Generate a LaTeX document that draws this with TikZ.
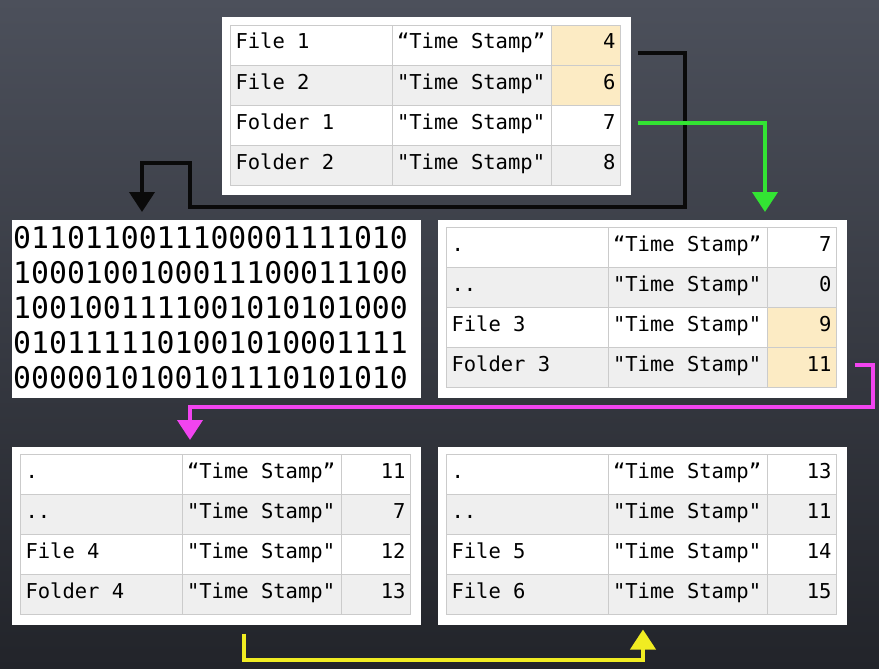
\documentclass[tikz,border=0pt]{standalone}
\usepackage{fontspec}
\usetikzlibrary{arrows.meta,positioning}
\newfontfamily\tabfont{DejaVu Sans Mono}
\definecolor{boardtop}{HTML}{4C505B}
\definecolor{boardbot}{HTML}{22242A}
\definecolor{rowgray}{HTML}{EFEFEF}
\definecolor{hlyellow}{HTML}{FCEBC4}
\definecolor{gridline}{HTML}{CBCBCB}
\definecolor{chalkblack}{HTML}{0A0A0A}
\definecolor{chalkgreen}{HTML}{33E433}
\definecolor{chalkpink}{HTML}{F244F0}
\definecolor{chalkyellow}{HTML}{F0EC22}
\tikzset{panel/.style={fill=white,inner sep=0pt,outer sep=0pt,minimum width=409pt,minimum height=177.5pt,anchor=north west},
 cell/.style={draw=gridline,line width=0.8pt,inner xsep=5pt,inner ysep=0pt,outer sep=0pt,text height=24pt,text depth=16pt,anchor=north west,font=\tabfont\fontsize{20.5}{24}\selectfont},
 rowA/.style={fill=white},rowB/.style={fill=rowgray},hilite/.style={fill=hlyellow},
 bits/.style={inner sep=0pt,anchor=base west,font=\tabfont\fontsize{29.8}{35}\selectfont},
 wire/.style={line width=4pt,-{Triangle[length=20pt,width=25pt]}}}
% one directory table: #1 panel name, #2 rows name/stamp/number/row style/number style
\newcommand{\dirtable}[2]{%
 \foreach \na/\ts/\num/\rs/\ns [count=\r] in {#2}{
  \node[cell,\rs,text width=151.5pt,align=flush left] (#1-\r-1) at ([shift={(9,40*\r-32.5)}]#1.north west) {\na};
  \node[cell,\rs,text width=149.5pt,align=flush left] (#1-\r-2) at (#1-\r-1.north east) {\ts};
  \node[cell,\ns,text width=59pt,align=flush right] (#1-\r-3) at (#1-\r-2.north east) {\num};
 }}

\begin{document}
\begin{tikzpicture}[x=1pt,y=-1pt]
\useasboundingbox (0,0) rectangle (879,669);
\shade[top color=boardtop,bottom color=boardbot] (0,0) rectangle (879,669);
% panels
\node[panel](root) at (221.5,17.5){};
\node[panel](bin) at (11.5,220){};
\node[panel](sub) at (437.5,220){};
\node[panel](leafA) at (11.5,447){};
\node[panel](leafB) at (437.5,447){};
\dirtable{root}{{File 1}/{“Time Stamp”}/4/rowA/hilite,{File 2}/{"Time Stamp"}/6/rowB/hilite,{Folder 1}/{"Time Stamp"}/7/rowA/rowA,{Folder 2}/{"Time Stamp"}/8/rowB/rowB}
\dirtable{sub}{{.}/{“Time Stamp”}/7/rowA/rowA,{..}/{"Time Stamp"}/0/rowB/rowB,{File 3}/{"Time Stamp"}/9/rowA/hilite,{Folder 3}/{"Time Stamp"}/11/rowB/hilite}
\dirtable{leafA}{{.}/{“Time Stamp”}/11/rowA/rowA,{..}/{"Time Stamp"}/7/rowB/rowB,{File 4}/{"Time Stamp"}/12/rowA/rowA,{Folder 4}/{"Time Stamp"}/13/rowB/rowB}
\dirtable{leafB}{{.}/{“Time Stamp”}/13/rowA/rowA,{..}/{"Time Stamp"}/11/rowB/rowB,{File 5}/{"Time Stamp"}/14/rowA/rowA,{File 6}/{"Time Stamp"}/15/rowB/rowB}
% file contents
\foreach \b [count=\i] in {0110110011100001111010,1000100100011100011100,1001001111001010101000,0101111101001010001111,0000010100101110101010}
 \node[bits](bits\i) at ([shift={(1.5,35*\i-6.7)}]bin.north west){\b};
% chalk arrows
\draw[wire,chalkblack,shorten >=8pt] ([shift={(17,8)}]root-1-3.east) -| (685,207) -| (190,163) -- (142,163) -- (142,163 |- bin.north);
\draw[wire,chalkgreen,shorten >=8pt] ([shift={(17,-2.5)}]root-3-3.east) -| (765,0 |- sub.north);
\draw[wire,chalkpink,shorten >=7pt] ([shift={(18,-2.5)}]sub-4-3.east) -| (873,407) -| (190,0 |- leafA.north);
\draw[wire,chalkyellow,shorten >=5pt] ([shift={(232,9)}]leafA.south west) |- (643,660) -- (643,660 |- leafB.south);
\end{tikzpicture}
\end{document}
